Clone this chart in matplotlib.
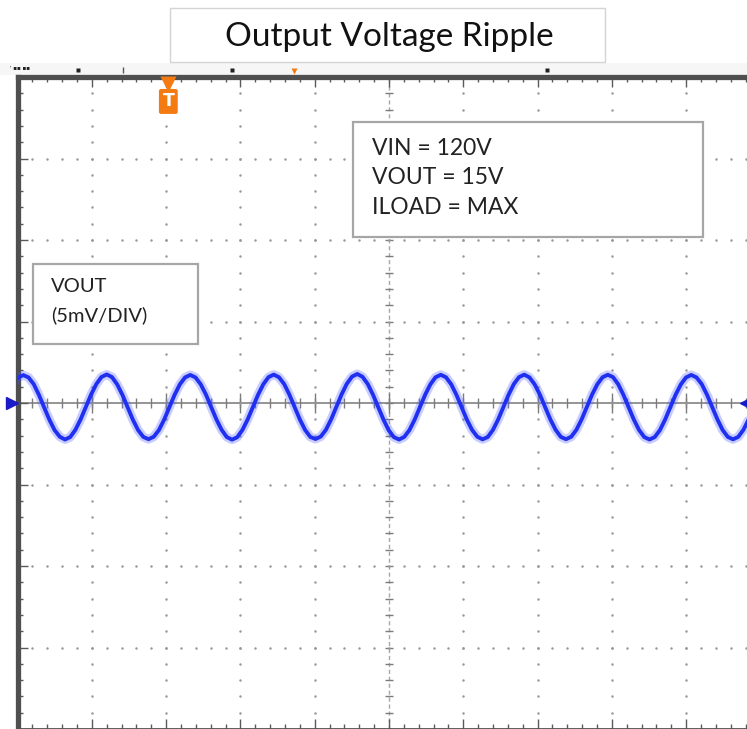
"""
Scope capture of the output voltage ripple, redrawn with matplotlib.
Graticule is 10 x 8 divisions, 5 mV/DIV vertical.
"""

import matplotlib.pyplot as plt
import matplotlib.patches as ptc
import numpy as np

plt.rcParams["font.family"] = ["Lato", "DejaVu Sans"]

W, H = 747, 729

TITLE = "Output Voltage Ripple"
COND_LINES = ["VIN = 120V", "VOUT = 15V", "ILOAD = MAX"]
CH_LABEL = ["VOUT", "(5mV/DIV)"]

MV_PER_DIV = 5
N_XDIV, N_YDIV = 10, 8

# sampled trace, one row per ripple period (time in divisions, vout in mV)
T_START_DIV = -0.063
T_STEP_DIV = 0.07024
vout_mv = [
    1.12, 1.56, 1.71, 1.57, 1.16, 0.50, -0.27, -1.02, -1.66, -2.07,
    -2.24, -2.09, -1.64, -1.00, -0.24, 0.52, 1.16, 1.60, 1.75, 1.59, 1.14, 0.50, -0.26, -1.02, -1.66, -2.08,
    -2.22, -2.07, -1.66, -1.02, -0.26, 0.50, 1.14, 1.57, 1.72, 1.57, 1.15, 0.52, -0.24, -1.00, -1.64, -2.09,
    -2.25, -2.10, -1.65, -1.01, -0.25, 0.51, 1.15, 1.59, 1.74, 1.58, 1.16, 0.51, -0.25, -1.01, -1.65, -2.08,
    -2.21, -2.06, -1.64, -1.00, -0.24, 0.53, 1.18, 1.62, 1.78, 1.61, 1.17, 0.52, -0.24, -1.00, -1.66, -2.09,
    -2.24, -2.08, -1.66, -1.02, -0.26, 0.50, 1.14, 1.58, 1.73, 1.58, 1.15, 0.50, -0.26, -1.02, -1.65, -2.07,
    -2.23, -2.09, -1.65, -1.01, -0.25, 0.51, 1.16, 1.59, 1.74, 1.57, 1.14, 0.51, -0.25, -1.01, -1.64, -2.08,
    -2.22, -2.07, -1.64, -1.00, -0.24, 0.52, 1.15, 1.58, 1.73, 1.59, 1.15, 0.50, -0.26, -1.02, -1.66, -2.09,
    -2.24, -2.09, -1.66, -1.01, -0.25, 0.51, 1.14, 1.57, 1.72, 1.57, 1.16, 0.52, -0.24, -1.00, -1.65, -2.08,
    -2.23, -2.08, -1.64, -1.01,
]

TRIG_POS_DIV = 2.03

TRACE = "#2030f0"
ORANGE = "#f47a12"
GRID = "#9a9a9a"
FRAME = "#4f4f4f"


def fig_box(fig, x0, y0, x1, y1, **kw):
    """rectangle given in pixel coords from the top left"""
    r = ptc.Rectangle((x0 / W, 1 - y1 / H), (x1 - x0) / W, (y1 - y0) / H,
                      transform=fig.transFigure, **kw)
    fig.add_artist(r)
    return r


fig = plt.figure(figsize=(W / 100, H / 100), dpi=100)

# strip above the screen
fig_box(fig, 0, 63, W, 75, facecolor="#f6f6f6", edgecolor="none", zorder=0)

ax = fig.add_axes([17.5 / W, 0, 743 / W, 652 / H])
ymax = MV_PER_DIV * N_YDIV / 2
ax.set_xlim(0, N_XDIV)
ax.set_ylim(-ymax, ymax)

# frame + graticule ticks on the border
ax.set_xticks(np.arange(0, N_XDIV + 1, 1))
ax.set_xticks(np.arange(0, N_XDIV + 0.01, 0.2), minor=True)
ax.set_yticks(np.arange(-ymax, ymax + 1, MV_PER_DIV))
ax.set_yticks(np.arange(-ymax, ymax + 0.01, 1), minor=True)
ax.tick_params(which="both", direction="in", top=True, bottom=True, left=True,
               right=False, labelbottom=False, labelleft=False, color="#5a5a5a")
ax.tick_params(which="major", length=7.5, width=1)
ax.tick_params(which="minor", length=3.5, width=1)
for side in ["left", "top"]:
    ax.spines[side].set_linewidth(3.8)
    ax.spines[side].set_color(FRAME)
ax.spines["bottom"].set_linewidth(2)
ax.spines["bottom"].set_color(FRAME)
ax.spines["right"].set_visible(False)

# dotted grid
xs_minor = np.arange(0.2, N_XDIV, 0.2)
ys_minor = np.arange(-ymax + 1, ymax, 1)
for gx in range(1, N_XDIV):
    if gx == N_XDIV // 2:
        continue
    ax.plot(np.full_like(ys_minor, gx), ys_minor, ls="none", marker="o", ms=1.8,
            color=GRID, mec="none")
for gy in np.arange(-ymax + MV_PER_DIV, ymax, MV_PER_DIV):
    if gy == 0:
        continue
    ax.plot(xs_minor, np.full_like(xs_minor, gy), ls="none", marker="o", ms=1.8,
            color=GRID, mec="none")

# centre cross with its small ticks
ax.axhline(0, color="#8c8c8c", lw=1.3, zorder=1)
ax.axvline(N_XDIV / 2, color="#a8a8a8", lw=1.0, ls=(0, (3, 2)), zorder=1)
ax.vlines(xs_minor, -0.3, 0.3, color="#7c7c7c", lw=1.0, zorder=1)
ax.vlines(np.arange(1, N_XDIV), -0.6, 0.6, color="#7c7c7c", lw=1.0, zorder=1)
ax.hlines(ys_minor, N_XDIV / 2 - 0.06, N_XDIV / 2 + 0.06, color="#7c7c7c", lw=1.0, zorder=1)

# trace
t = T_START_DIV + T_STEP_DIV * np.arange(len(vout_mv))
ax.plot(t, vout_mv, color="#4a58ff", lw=6.5, alpha=0.3, solid_capstyle="round", zorder=3)
ax.plot(t, vout_mv, color=TRACE, lw=2.8, zorder=4)

# channel ground markers
ax.plot(-0.075, 0, marker=">", ms=9, color="#1a1ac8", clip_on=False, zorder=5)
ax.plot(9.79, 0, marker="<", ms=7, color="#1a1ac8", clip_on=False, zorder=5)

# trigger marker
ax.plot(TRIG_POS_DIV, 19.55, marker="v", ms=12, color=ORANGE, mec="none", clip_on=False, zorder=5)
ax.text(TRIG_POS_DIV, 18.5, "T", ha="center", va="center", color="white", fontsize=12.5,
        fontweight="bold", family=["DejaVu Sans"], zorder=6,
        bbox=dict(boxstyle="round,pad=0.2,rounding_size=0.12", fc=ORANGE, ec="none"))

# small readouts on the strip above the screen
ax.plot(3.72, 20.38, marker="v", ms=5, color=ORANGE, mec="none", clip_on=False, zorder=5)
for mx in [0.81, 2.89, 7.13]:
    ax.plot(mx, 20.4, marker="s", ms=2.5, color="#222222", mec="none", clip_on=False)
ax.plot(1.42, 20.4, marker="|", ms=4, color="#555555", clip_on=False)
fig.text(10 / W, 1 - 68 / H, "' ▪▪ ▪▪", fontsize=4, color="#222222", va="center",
         family=["DejaVu Sans"])

# title
fig_box(fig, 170, 8, 605, 62, facecolor="white", edgecolor="#d4d4d4", lw=1, zorder=2)
fig.text(389 / W, 1 - 37 / H, TITLE, ha="center", va="center", fontsize=24,
         color="#111111", zorder=3)

# test conditions
fig_box(fig, 353, 122, 703, 237, facecolor="white", edgecolor="#a6a6a6", lw=1.6, zorder=2)
for i, line in enumerate(COND_LINES):
    fig.text(372 / W, 1 - (148.5 + 29.5 * i) / H, line, ha="left", va="center",
             fontsize=16.5, color="#222222", zorder=3)

# channel label
fig_box(fig, 33, 264, 198, 344, facecolor="white", edgecolor="#a6a6a6", lw=1.6, zorder=2)
for i, line in enumerate(CH_LABEL):
    fig.text(51 / W, 1 - (287 + 28 * i) / H, line, ha="left", va="center",
             fontsize=14.5, color="#222222", zorder=3)

fig.savefig("out.png", dpi=100)
